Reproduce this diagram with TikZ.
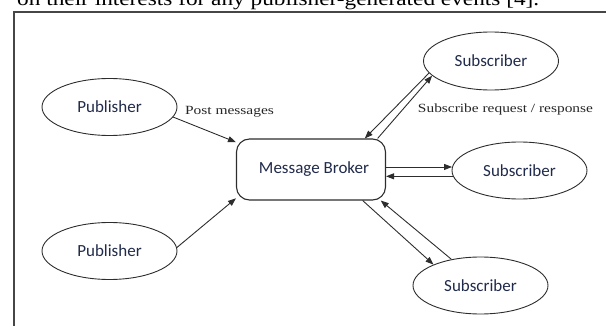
\documentclass[tikz,border=0pt]{standalone}
\usepackage{fontspec}
\usepackage{graphicx}
\setmainfont{Liberation Serif}
\newfontfamily\labelfont{Carlito}
\usetikzlibrary{arrows.meta,shapes.geometric}

\definecolor{inkblue}{RGB}{32,42,74}
\definecolor{linegray}{RGB}{45,45,45}
\definecolor{framegray}{RGB}{70,70,70}

\tikzset{
  actor/.style={ellipse, draw=linegray, line width=0.9pt,
    minimum width=135pt, minimum height=57pt, inner sep=0pt,
    font=\labelfont\fontsize{17}{20}\selectfont, text=inkblue},
  brokerbox/.style={rectangle, rounded corners=13pt, draw=linegray, line width=1.1pt,
    minimum width=149pt, minimum height=61pt, inner sep=0pt,
    font=\labelfont\fontsize{17}{20}\selectfont, text=inkblue},
  flow/.style={draw=linegray, line width=0.9pt,
    -{Triangle[length=8pt,width=6pt]}},
  note/.style={inner sep=0pt, text=black!85}
}

\newcommand{\notetext}[2]{\resizebox{#1}{\height}{\fontsize{12.5}{14}\selectfont #2}}

\begin{document}
\begin{tikzpicture}[x=1pt,y=-1pt]
  \useasboundingbox (0,0) rectangle (606,326);

  % running text of the page above the figure
  \node[anchor=base west, inner sep=0pt] (pagetext) at (17,6)
    {\resizebox{522pt}{\height}{\fontsize{20}{22}\selectfont on their interests for any publisher-generated events [4].}};

  % figure frame, open to the right and below
  \coordinate (frameR) at (612,12);
  \coordinate (frameB) at (14,332);
  \draw[framegray, line width=1.4pt] (frameR) -- (14,12) -- (frameB);

  % nodes
  \node[actor] (pub1) at (109.5,107) {Publisher};
  \node[actor] (pub2) at (109.5,251) {Publisher};
  \node[brokerbox] (broker) at (311,169.5) {\hspace*{6pt}Message Broker};
  \node[actor, minimum height=58pt] (sub1) at (491,61) {Subscriber};
  \node[actor] (sub2) at (519.5,170.5) {Subscriber};
  \node[actor] (sub3) at (480.5,285.5) {Subscriber};

  % publishers post to the broker
  \draw[flow] (pub1.-9) -- (broker.160);
  \draw[flow] (pub2.3) -- (broker.201);

  % subscribe request / response pairs
  \draw[flow] (sub1.191) -- (broker.30);
  \draw[flow] (broker.25) -- (sub1.194);

  \draw[flow] (broker.east |- sub2.177) -- (sub2.177);
  \draw[flow] (sub2.185) -- (broker.east |- sub2.185);

  \draw[flow] (broker.-31) -- (sub3.156);
  \draw[flow] (sub3.138) -- (broker.-24);

  % connector labels
  \node[note] (postlbl) at (229.5,112) {\notetext{89pt}{Post messages}};
  \node[note] (sublbl) at (505.5,109) {\notetext{175pt}{Subscribe request / response}};
\end{tikzpicture}
\end{document}
